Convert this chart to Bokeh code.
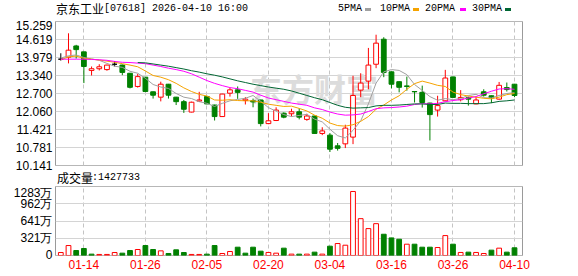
import math
from bokeh.plotting import figure
from bokeh.layouts import column
from bokeh.models import Range1d, FixedTicker, Label, PrintfTickFormatter, ColumnDataSource, Div
from bokeh.embed import file_html
from bokeh.resources import INLINE

NaN = float("nan")

# ---------------- data ----------------
dates = ["01-09", "01-12", "01-13", "01-14", "01-15", "01-16", "01-19", "01-20", "01-21", "01-22",
         "01-23", "01-26", "01-27", "01-28", "01-29", "01-30", "02-02", "02-03", "02-04", "02-05",
         "02-06", "02-09", "02-10", "02-11", "02-12", "02-13", "02-16", "02-20", "02-23", "02-24",
         "02-25", "02-26", "02-27", "03-02", "03-03", "03-04", "03-05", "03-06", "03-09", "03-10",
         "03-11", "03-12", "03-13", "03-16", "03-17", "03-18", "03-19", "03-20", "03-23", "03-24",
         "03-25", "03-26", "03-27", "03-30", "03-31", "04-01", "04-02", "04-08", "04-09", "04-10"]

opens = [13.92, 13.99, 14.39, 14.18, 13.52, 13.58, 13.55, 13.74, 13.71, 13.42,
         12.95, 13.28, 12.76, 12.57, 13.03, 12.57, 12.41, 12.04, 12.43, 12.59,
         12.29, 11.88, 12.71, 12.83, 12.45, 12.44, 12.47, 11.63, 11.74, 12.00,
         11.98, 12.05, 11.78, 11.90, 11.28, 11.22, 10.84, 10.91, 11.15, 12.82,
         13.14, 13.74, 14.63, 13.47, 13.12, 12.97, 12.77, 12.74, 12.36, 12.11,
         12.44, 13.29, 12.48, 12.55, 12.33, 12.76, 12.62, 12.50, 12.91, 13.03]
highs = [14.13, 14.84, 14.43, 14.18, 13.66, 13.74, 13.72, 13.85, 13.73, 13.43,
         13.40, 13.29, 12.77, 13.12, 13.04, 12.58, 12.47, 12.41, 12.76, 12.62,
         12.30, 12.69, 12.90, 12.95, 12.57, 12.52, 12.48, 12.00, 12.21, 12.03,
         12.16, 12.17, 11.98, 11.91, 11.50, 11.29, 10.94, 11.59, 13.33, 13.42,
         14.32, 14.79, 14.70, 13.48, 13.13, 13.30, 12.77, 12.98, 12.37, 12.62,
         13.54, 13.30, 12.82, 12.59, 12.59, 12.85, 12.63, 13.11, 13.09, 13.04]
lows = [13.87, 13.77, 13.94, 13.07, 13.34, 13.52, 13.51, 13.66, 13.35, 12.88,
        12.91, 12.75, 12.52, 12.42, 12.52, 12.29, 12.01, 12.03, 12.40, 12.32,
        11.74, 11.87, 12.59, 12.51, 12.31, 12.21, 11.53, 11.61, 11.72, 11.82,
        11.88, 11.78, 11.73, 11.27, 11.22, 10.62, 10.67, 10.76, 10.90, 12.57,
        12.85, 13.60, 13.28, 12.88, 12.74, 12.80, 12.38, 12.20, 11.03, 11.88,
        12.43, 12.55, 12.42, 12.27, 12.32, 12.59, 12.36, 12.48, 12.77, 12.57]
closes = [13.92, 14.24, 14.26, 13.66, 13.58, 13.65, 13.71, 13.74, 13.45, 12.92,
          13.30, 12.77, 12.64, 13.03, 12.64, 12.41, 12.14, 12.39, 12.47, 12.33,
          11.88, 12.68, 12.83, 12.74, 12.50, 12.40, 11.63, 11.73, 12.11, 11.86,
          12.05, 11.86, 11.90, 11.28, 11.37, 10.72, 10.75, 11.47, 12.63, 13.07,
          13.71, 14.49, 13.45, 13.03, 12.92, 12.95, 12.76, 12.38, 11.95, 12.27,
          13.25, 12.56, 12.56, 12.50, 12.47, 12.64, 12.55, 12.99, 12.84, 12.63]

# volume in 万 (10k shares); 1 = up day (red), 0 = down day (green)
volumes = [55, 185, 92, 130, 25, 19, 19, 55, 43, 92,
           111, 185, 111, 86, 37, 105, 55, 19, 19, 25,
           185, 37, 74, 154, 43, 154, 80, 56, 43, 136,
           25, 25, 25, 62, 25, 173, 222, 191, 1191, 685,
           500, 592, 395, 327, 302, 210, 210, 154, 154, 148,
           370, 210, 56, 62, 56, 37, 99, 136, 62, 142.77]
vol_up = [1, 1, 0, 0, 0, 1, 1, 1, 0, 0,
          1, 0, 0, 1, 0, 0, 0, 1, 1, 0,
          0, 1, 1, 0, 0, 0, 0, 1, 1, 0,
          1, 0, 1, 0, 1, 0, 1, 1, 1, 1,
          1, 1, 0, 0, 0, 1, 0, 0, 0, 1,
          1, 0, 1, 0, 1, 1, 0, 1, 0, 0]

ma5 = [13.96, 14.04, 14.07, 13.98, 13.93, 13.88, 13.77, 13.67, 13.63, 13.49,
       13.42, 13.24, 13.02, 12.93, 12.88, 12.70, 12.57, 12.52, 12.41, 12.35,
       12.24, 12.35, 12.44, 12.49, 12.53, 12.63, 12.42, 12.20, 12.07, 11.95,
       11.88, 11.92, 11.96, 11.79, 11.69, 11.43, 11.20, 11.12, 11.39, 11.73,
       12.33, 13.07, 13.47, 13.55, 13.52, 13.37, 13.02, 12.81, 12.59, 12.46,
       12.52, 12.48, 12.52, 12.63, 12.67, 12.55, 12.54, 12.63, 12.70, 12.73]
ma10 = [13.90, 14.00, 14.03, 13.95, 13.92, 13.89, 13.85, 13.81, 13.76, 13.71,
        13.65, 13.50, 13.34, 13.28, 13.19, 13.06, 12.90, 12.77, 12.67, 12.61,
        12.47, 12.46, 12.48, 12.45, 12.44, 12.44, 12.39, 12.32, 12.28, 12.24,
        12.25, 12.17, 12.08, 11.93, 11.82, 11.65, 11.56, 11.54, 11.59, 11.71,
        11.88, 12.14, 12.29, 12.47, 12.62, 12.85, 13.05, 13.14, 13.07, 12.99,
        12.95, 12.75, 12.66, 12.61, 12.57, 12.53, 12.51, 12.57, 12.66, 12.70]
ma20 = [13.92, 13.92, 13.92, 13.92, 13.91, 13.90, 13.88, 13.84, 13.81, 13.80,
        13.78, 13.76, 13.71, 13.66, 13.60, 13.55, 13.49, 13.40, 13.28, 13.16,
        13.06, 12.98, 12.91, 12.87, 12.81, 12.75, 12.64, 12.54, 12.48, 12.42,
        12.36, 12.32, 12.28, 12.19, 12.13, 12.04, 11.97, 11.93, 11.94, 11.97,
        12.06, 12.16, 12.19, 12.20, 12.22, 12.25, 12.31, 12.34, 12.33, 12.35,
        12.41, 12.45, 12.48, 12.54, 12.59, 12.69, 12.78, 12.86, 12.87, 12.85]
ma30 = [NaN, NaN, NaN, NaN, NaN, NaN, NaN, NaN, NaN, NaN,
        13.80, 13.79, 13.75, 13.71, 13.67, 13.62, 13.57, 13.51, 13.46, 13.40,
        13.35, 13.29, 13.22, 13.15, 13.09, 13.03, 12.98, 12.93, 12.89, 12.85,
        12.79, 12.71, 12.63, 12.55, 12.48, 12.38, 12.28, 12.21, 12.18, 12.19,
        12.20, 12.26, 12.28, 12.28, 12.29, 12.31, 12.33, 12.33, 12.31, 12.31,
        12.36, 12.35, 12.35, 12.34, 12.34, 12.34, 12.37, 12.42, 12.44, 12.47]

price_ticks = [10.141, 10.781, 11.421, 12.060, 12.700, 13.340, 13.979, 14.619, 15.259]
vol_ticks = [0, 321, 641, 962, 1283]
vol_tick_labels = ["0", "321万", "641万", "962万", "1283万"]
date_ticks = [3, 11, 19, 27, 35, 43, 51, 59]

stock_name = "京东工业"
stock_info = "[07618] 2026-04-10 16:00"
vol_title = "成交量"
vol_info = ":1427733"
ma_names = ["5PMA", "10PMA", "20PMA", "30PMA"]
watermark = "东方财富"

# ---------------- styles ----------------
W = 578
RED = "#ff0000"
GREEN = "#008000"
MA_COLORS = ["#a0a0a0", "#f5a300", "#ff00ff", "#006633"]
FRAME = "#9a9a9a"
HGRID = "#d4d4d4"
VGRID = "#c4c4c4"
NUM_FONT = "Liberation Sans"
MONO_FONT = "Liberation Mono"
CJK_FONT = "Noto Sans CJK SC"

X0, X1 = -0.69, 60.04
FRAME_L, FRAME_R = 55, 522
xs = list(range(len(closes)))


def span(left, top, text, font, size, lh, color="#000"):
    return (f'<span style="position:absolute;left:{left}px;top:{top}px;white-space:nowrap;'
            f'font-family:\'{font}\';font-size:{size}px;line-height:{lh}px;color:{color};">{text}</span>')


def swatch(left, top, color):
    return (f'<span style="position:absolute;left:{left}px;top:{top}px;width:6px;height:3px;'
            f'background:{color};"></span>')


def text_strip(height, parts):
    html = (f'<div style="position:relative;width:{W}px;height:{height}px;overflow:visible;'
            f'margin:0;padding:0;">' + "".join(parts) + "</div>")
    return Div(text=html, width=W, height=height, margin=0)


def style_grid(f):
    f.xgrid.ticker = FixedTicker(ticks=date_ticks)
    f.xgrid.grid_line_color = VGRID
    f.xgrid.grid_line_dash = "4 3"
    f.xgrid.grid_line_width = 1
    f.ygrid.grid_line_color = HGRID
    f.ygrid.grid_line_width = 1
    f.outline_line_color = FRAME
    f.outline_line_width = 1


def style_yaxis(ax):
    ax.major_tick_out = 0
    ax.major_tick_in = 0
    ax.minor_tick_out = 0
    ax.minor_tick_in = 0
    ax.axis_line_color = None
    ax.major_label_standoff = 3
    ax.major_label_text_font = NUM_FONT
    ax.major_label_text_font_size = "12px"
    ax.major_label_text_color = "#000000"


# ---------------- header (title + MA legend) ----------------
hdr_parts = [span(56, 2, stock_name, CJK_FONT, 12, 14),
             span(104, 3, stock_info, MONO_FONT, 10, 12)]
for name, col, tx, sx in zip(ma_names, MA_COLORS, [338, 380, 425, 472], [365, 413, 460, 505]):
    hdr_parts.append(span(tx, 3, name, MONO_FONT, 10, 12))
    hdr_parts.append(swatch(sx, 8, col))
hdr = text_strip(20, hdr_parts)

# ---------------- price chart ----------------
p1 = figure(width=W, height=152, x_range=Range1d(X0, X1), y_range=Range1d(10.1405, 15.2595),
            x_axis_location=None, min_border_left=FRAME_L, min_border_right=W - FRAME_R,
            min_border_top=1, min_border_bottom=7, toolbar_location=None,
            output_backend="svg", background_fill_color="white", border_fill_color="white")
style_grid(p1)
p1.yaxis.ticker = FixedTicker(ticks=price_ticks)
p1.yaxis.formatter = PrintfTickFormatter(format="%.3f")
style_yaxis(p1.yaxis[0])

p1.add_layout(Label(x=24.6, y=12.89, text=watermark, text_font=CJK_FONT, text_font_size="32px",
                    text_font_style="bold", text_color="#dcdcdc", text_baseline="middle",
                    level="underlay"))

line_c, fill_c = [], []
for o, c in zip(opens, closes):
    if c > o:
        line_c.append(RED); fill_c.append("white")
    elif c < o:
        line_c.append(GREEN); fill_c.append(GREEN)
    else:
        line_c.append("#000000"); fill_c.append("#000000")
src = ColumnDataSource(dict(x=xs, o=opens, h=highs, l=lows, c=closes,
                            top=[max(o, c) for o, c in zip(opens, closes)],
                            bot=[min(o, c) for o, c in zip(opens, closes)],
                            lc=line_c, fc=fill_c))
p1.segment(x0="x", y0="l", x1="x", y1="h", line_color="lc", line_width=1, source=src)
p1.vbar(x="x", width=0.62, top="top", bottom="bot", fill_color="fc", line_color="lc",
        line_width=1, source=src)

for ma, col in zip([ma5, ma10, ma20, ma30], MA_COLORS):
    p1.line(xs, ma, line_color=col, line_width=1)

# ---------------- volume header ----------------
vh = text_strip(13, [span(57, -1, vol_title, CJK_FONT, 12, 14),
                     span(92, 0, vol_info, MONO_FONT, 10, 12)])

# ---------------- volume chart ----------------
p2 = figure(width=W, height=91, x_range=p1.x_range, y_range=Range1d(-0.5, 1283.5),
            min_border_left=FRAME_L, min_border_right=W - FRAME_R, min_border_top=1,
            min_border_bottom=21, toolbar_location=None, output_backend="svg",
            background_fill_color="white", border_fill_color="white")
style_grid(p2)
p2.yaxis.ticker = FixedTicker(ticks=vol_ticks)
p2.yaxis.major_label_overrides = {t: s for t, s in zip(vol_ticks, vol_tick_labels)}
style_yaxis(p2.yaxis[0])
xa = p2.xaxis[0]
xa.ticker = FixedTicker(ticks=date_ticks)
xa.major_label_overrides = {i: dates[i] for i in date_ticks}
xa.major_tick_out = 0
xa.major_tick_in = 0
xa.minor_tick_out = 0
xa.minor_tick_in = 0
xa.axis_line_color = None
xa.major_label_standoff = 4
xa.major_label_text_font = NUM_FONT
xa.major_label_text_font_size = "12px"
xa.major_label_text_color = RED

vsrc = ColumnDataSource(dict(x=xs, v=volumes,
                             lc=[RED if u else GREEN for u in vol_up],
                             fc=["white" if u else GREEN for u in vol_up]))
p2.vbar(x="x", width=0.62, top="v", bottom=0, fill_color="fc", line_color="lc",
        line_width=1, source=vsrc)

layout = column(hdr, p1, vh, p2, spacing=0)
open("out.html", "w").write(file_html(layout, INLINE))
